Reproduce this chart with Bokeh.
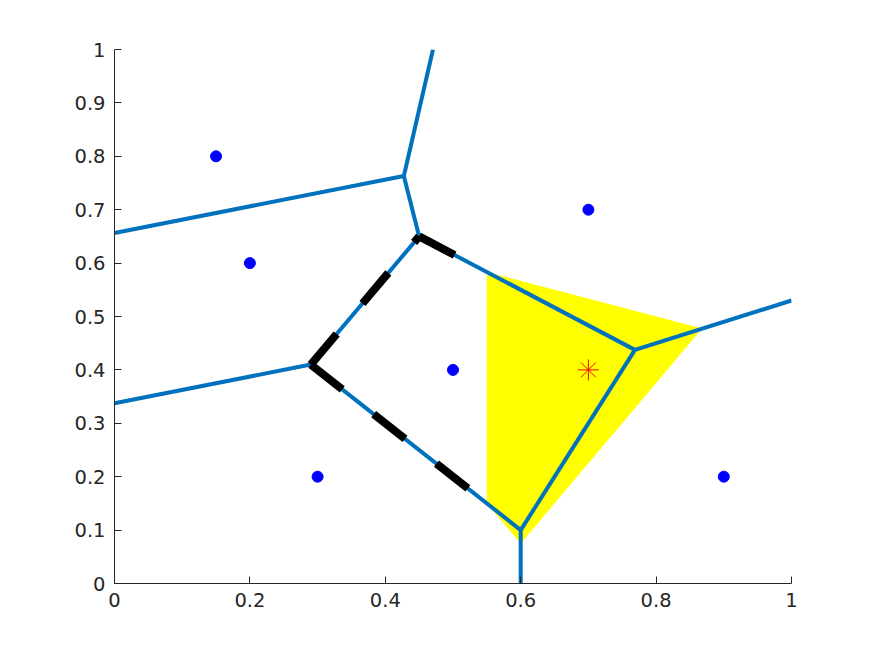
from bokeh.plotting import figure
from bokeh.models import Range1d, FixedTicker
from bokeh.embed import file_html
from bokeh.resources import INLINE

# Data points (Voronoi sites)
site_x = [0.15, 0.2, 0.3, 0.5, 0.7, 0.9]
site_y = [0.8, 0.6, 0.2, 0.4, 0.7, 0.2]

# Query point (red star)
query_x = [0.7]
query_y = [0.4]

# Voronoi edges (start/end coordinates)
edge_x0 = [0.0, 0.42738, 0.42738, 0.45, 0.45, 0.29, 0.29, 0.6, 0.6, 0.76875]
edge_y0 = [0.65625, 0.76310, 0.76310, 0.65, 0.65, 0.41, 0.41, 0.1, 0.1, 0.4375]
edge_x1 = [0.42738, 0.47045, 0.45, 0.76875, 0.29, 0.0, 0.6, 0.6, 0.76875, 1.0]
edge_y1 = [0.76310, 1.0, 0.65, 0.4375, 0.41, 0.3375, 0.1, 0.0, 0.4375, 0.53]

# Highlighted (yellow) cell
cell_x = [0.55, 0.868, 0.6, 0.55]
cell_y = [0.5833, 0.4773, 0.075, 0.15]

# Dashed boundary segments
dash_xs = [[0.29, 0.55], [0.29, 0.45], [0.45, 0.55]]
dash_ys = [[0.41, 0.15], [0.41, 0.65], [0.65, 0.5833]]

# Ticks
x_ticks = [0, 0.2, 0.4, 0.6, 0.8, 1]
x_labels = ["0", "0.2", "0.4", "0.6", "0.8", "1"]
y_ticks = [0, 0.1, 0.2, 0.3, 0.4, 0.5, 0.6, 0.7, 0.8, 0.9, 1]
y_labels = ["0", "0.1", "0.2", "0.3", "0.4", "0.5", "0.6", "0.7", "0.8", "0.9", "1"]

p = figure(width=859, height=640, output_backend="svg", toolbar_location=None,
           x_range=Range1d(0, 1), y_range=Range1d(0, 1),
           min_border_left=114, min_border_right=68, min_border_top=49, min_border_bottom=57)
p.grid.visible = False
p.outline_line_color = None
p.background_fill_color = "white"
p.border_fill_color = "white"

p.patch(cell_x, cell_y, fill_color="#FFFF00", line_color=None)

xs = [[a, b] for a, b in zip(edge_x0, edge_x1)]
ys = [[a, b] for a, b in zip(edge_y0, edge_y1)]
p.multi_line(xs, ys, line_color="#0072BD", line_width=4)

p.multi_line(dash_xs, dash_ys, line_color="black", line_width=8, line_dash="40 40")

p.scatter(site_x, site_y, size=11, fill_color="#0000FF", line_color="#0000FF")
p.scatter(query_x, query_y, marker="asterisk", size=21, line_color="#FF0000", line_width=1)

for ax, ticks, labels in ((p.xaxis[0], x_ticks, x_labels), (p.yaxis[0], y_ticks, y_labels)):
    ax.ticker = FixedTicker(ticks=ticks)
    ax.major_label_overrides = {t: l for t, l in zip(ticks, labels)}
    ax.major_tick_in = 7
    ax.major_tick_out = 0
    ax.minor_tick_line_color = None
    ax.axis_line_color = "#262626"
    ax.major_tick_line_color = "#262626"
    ax.major_label_text_color = "#262626"
    ax.major_label_text_font = "DejaVu Sans"
    ax.major_label_text_font_size = "19.5px"
    ax.major_label_standoff = 9

open("out.html", "w").write(file_html(p, INLINE))
